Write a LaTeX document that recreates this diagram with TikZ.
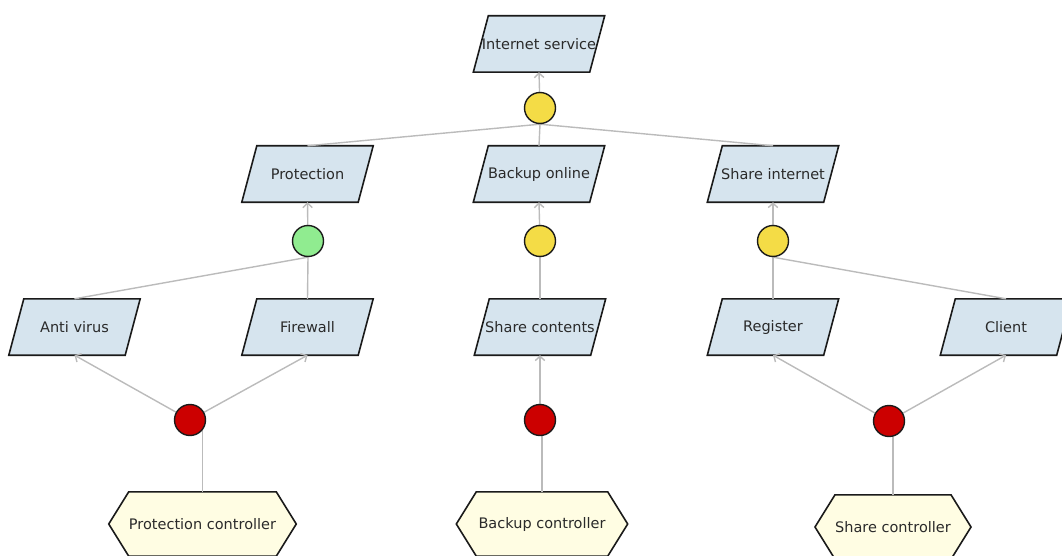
\documentclass[tikz,border=0pt]{standalone}
\usepackage{fontspec}
\setmainfont{DejaVu Sans}
\usetikzlibrary{arrows.meta,backgrounds,calc}

\definecolor{goalfill}{HTML}{D6E4EE}
\definecolor{agentfill}{HTML}{FFFDE3}
\definecolor{orfill}{HTML}{F4DC46}
\definecolor{andfill}{HTML}{90EC90}
\definecolor{opfill}{HTML}{CC0000}
\definecolor{wiregray}{HTML}{BBBBBB}
\definecolor{ink}{HTML}{2A2A2A}
\definecolor{outline}{HTML}{1A1A1A}

\tikzset{
  label font/.style={text=ink, font=\fontsize{14.5}{17}\selectfont},
  goal/.style={label font, minimum width=116, minimum height=56, inner sep=0},
  agent/.style={label font, minimum height=64, inner sep=0},
  dot/.style={circle, draw=outline, line width=1.4, minimum size=31, inner sep=0},
  wire/.style={draw=wiregray, line width=1.4},
  feed/.style={wire, -{Straight Barb[length=4.5,width=9.5]}},
  goalshape/.style={fill=goalfill, draw=outline, line width=1.6, line join=miter},
  agentshape/.style={fill=agentfill, draw=outline, line width=1.6, line join=miter}
}

% slanted goal box around a rectangular node
\newcommand\goalbox[1]{\path[goalshape]
  ($(#1.north west)+(7.5,0)$) -- ($(#1.north east)+(7.5,0)$) --
  ($(#1.south east)+(-7.5,0)$) -- ($(#1.south west)+(-7.5,0)$) -- cycle;}
% hexagonal agent box around a rectangular node
\newcommand\agentbox[1]{\path[agentshape]
  (#1.north west) -- (#1.north east) -- ($(#1.east)+(20,0)$) --
  (#1.south east) -- (#1.south west) -- ($(#1.west)+(-20,0)$) -- cycle;}

\begin{document}
\begin{tikzpicture}[x=1pt, y=-1pt]
  \useasboundingbox (0,0) rectangle (1062,556);

  % goals
  \node[goal] (inet) at (539,44)   {Internet service};
  \node[goal] (prot) at (307.5,174) {Protection};
  \node[goal] (bko)  at (539,174)  {Backup online};
  \node[goal] (shi)  at (773,174)  {Share internet};
  \node[goal] (av)   at (74.5,327) {Anti virus};
  \node[goal] (fw)   at (307.5,327) {Firewall};
  \node[goal] (shc)  at (540,327)  {Share contents};
  \node[goal] (reg)  at (773,327)  {Register};
  \node[goal] (cli)  at (1006,327) {Client};

  % agents
  \node[agent, minimum width=137] (pctl) at (202.5,524) {Protection controller};
  \node[agent, minimum width=131] (bctl) at (542,524)   {Backup controller};
  \node[agent, minimum width=115] (sctl) at (893,527)   {Share controller};

  % refinements and operations
  \node[dot, fill=orfill]  (c0) at (540,108) {};
  \node[dot, fill=andfill] (c1) at (308,241) {};
  \node[dot, fill=orfill]  (c2) at (540,241) {};
  \node[dot, fill=orfill]  (c3) at (773,241) {};
  \node[dot, fill=opfill]  (r1) at (190,420) {};
  \node[dot, fill=opfill]  (r2) at (540,420) {};
  \node[dot, fill=opfill]  (r3) at (889,421) {};

  \begin{scope}[on background layer]
    \foreach \n in {inet,prot,bko,shi,av,fw,shc,reg,cli} {\goalbox{\n}}
    \foreach \n in {pctl,bctl,sctl} {\agentbox{\n}}

    % top refinement
    \draw[feed] (c0) -- (inet.south);
    \draw[wire] (c0.south) -- (prot.north);
    \draw[wire] (c0.south) -- (bko.north);
    \draw[wire] (c0.south) -- (shi.north);

    % protection
    \draw[feed] (c1) -- (prot.south);
    \draw[wire] (c1.south) -- (av.north);
    \draw[wire] (c1.south) -- (fw.north);

    % backup
    \draw[feed] (c2) -- (bko.south);
    \draw[wire] (c2.south) -- (shc.north);

    % sharing
    \draw[feed] (c3) -- (shi.south);
    \draw[wire] (c3.south) -- (reg.north);
    \draw[wire] (c3.south) -- (cli.north);

    % operations and their controllers
    \draw[feed] (r1) -- (av.south);
    \draw[feed] (r1) -- (fw.south);
    \draw[wire] (pctl.north) -- (pctl.north |- r1.center);
    \draw[feed] (r2) -- (shc.south);
    \draw[wire] (bctl.north) -- (bctl.north |- r2.center);
    \draw[feed] (r3) -- (reg.south);
    \draw[feed] (r3) -- (cli.south);
    \draw[wire] (sctl.north) -- (sctl.north |- r3.center);
  \end{scope}
\end{tikzpicture}
\end{document}
